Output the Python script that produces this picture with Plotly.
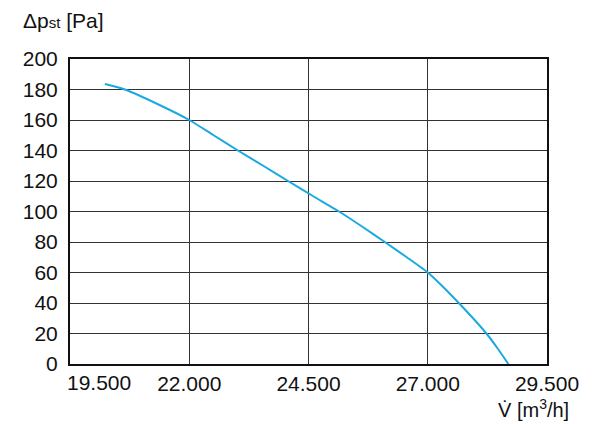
import plotly.graph_objects as go

# Data
flow = [20230, 20650, 21300, 22000, 22510, 23020, 23550, 24070, 24600, 25140,
        25630, 26100, 26560, 27000, 27340, 27650, 27950, 28230, 28470, 28690]
pressure = [183.6, 180, 171, 160, 150, 140, 130, 120, 110, 100,
            90, 80, 70, 60, 50, 40, 30, 20, 10, 0]

x_ticks = [19500, 22000, 24500, 27000, 29500]
x_tick_text = ["19.500", "22.000", "24.500", "27.000", "29.500"]
y_ticks = [0, 20, 40, 60, 80, 100, 120, 140, 160, 180, 200]

FONT = "Liberation Sans, Arial, sans-serif"
L, R, T, B = 70, 53, 59, 60
PW, PH = 600 - L - R, 424 - T - B

fig = go.Figure()
fig.add_trace(go.Scatter(
    x=flow, y=pressure, mode="lines",
    line=dict(color="#1AA9E1", width=2, shape="spline", smoothing=0.6),
    showlegend=False, hoverinfo="skip",
))

fig.update_layout(
    width=600, height=424,
    margin=dict(l=L, r=R, t=T, b=B),
    paper_bgcolor="white", plot_bgcolor="white",
    font=dict(family=FONT, size=21, color="#111"),
    xaxis=dict(
        range=[19500, 29500], tickvals=x_ticks[1:],
        ticktext=x_tick_text[1:],
        showgrid=True, gridcolor="#333", gridwidth=1,
        showline=True, linecolor="#111", linewidth=2, mirror=True,
        ticks="", zeroline=False,
    ),
    yaxis=dict(
        range=[0, 200], tickvals=y_ticks,
        showgrid=True, gridcolor="#333", gridwidth=1,
        showline=True, linecolor="#111", linewidth=2, mirror=True,
        ticks="", zeroline=False, ticklabelstandoff=6,
    ),
    annotations=[
        dict(text=x_tick_text[0], xref="x", yref="paper", x=x_ticks[0],
             y=-(382 - 364) / PH, xanchor="left", yanchor="middle", xshift=-5,
             showarrow=False, font=dict(family=FONT, size=21, color="#111")),
        dict(text="Δp<span style='font-size:15px'>st</span> [Pa]",
             xref="paper", yref="paper",
             x=(21 - L) / PW, y=1 + (T - 20) / PH,
             xanchor="left", yanchor="middle", showarrow=False,
             font=dict(family=FONT, size=21, color="#111")),
        dict(text="V̇ [m<sup>3</sup>/h]",
             xref="paper", yref="paper",
             x=(571 - L) / PW, y=-(408 - 364) / PH,
             xanchor="right", yanchor="middle", showarrow=False,
             font=dict(family=FONT, size=20, color="#111")),
    ],
)

fig.write_html("out.html")
